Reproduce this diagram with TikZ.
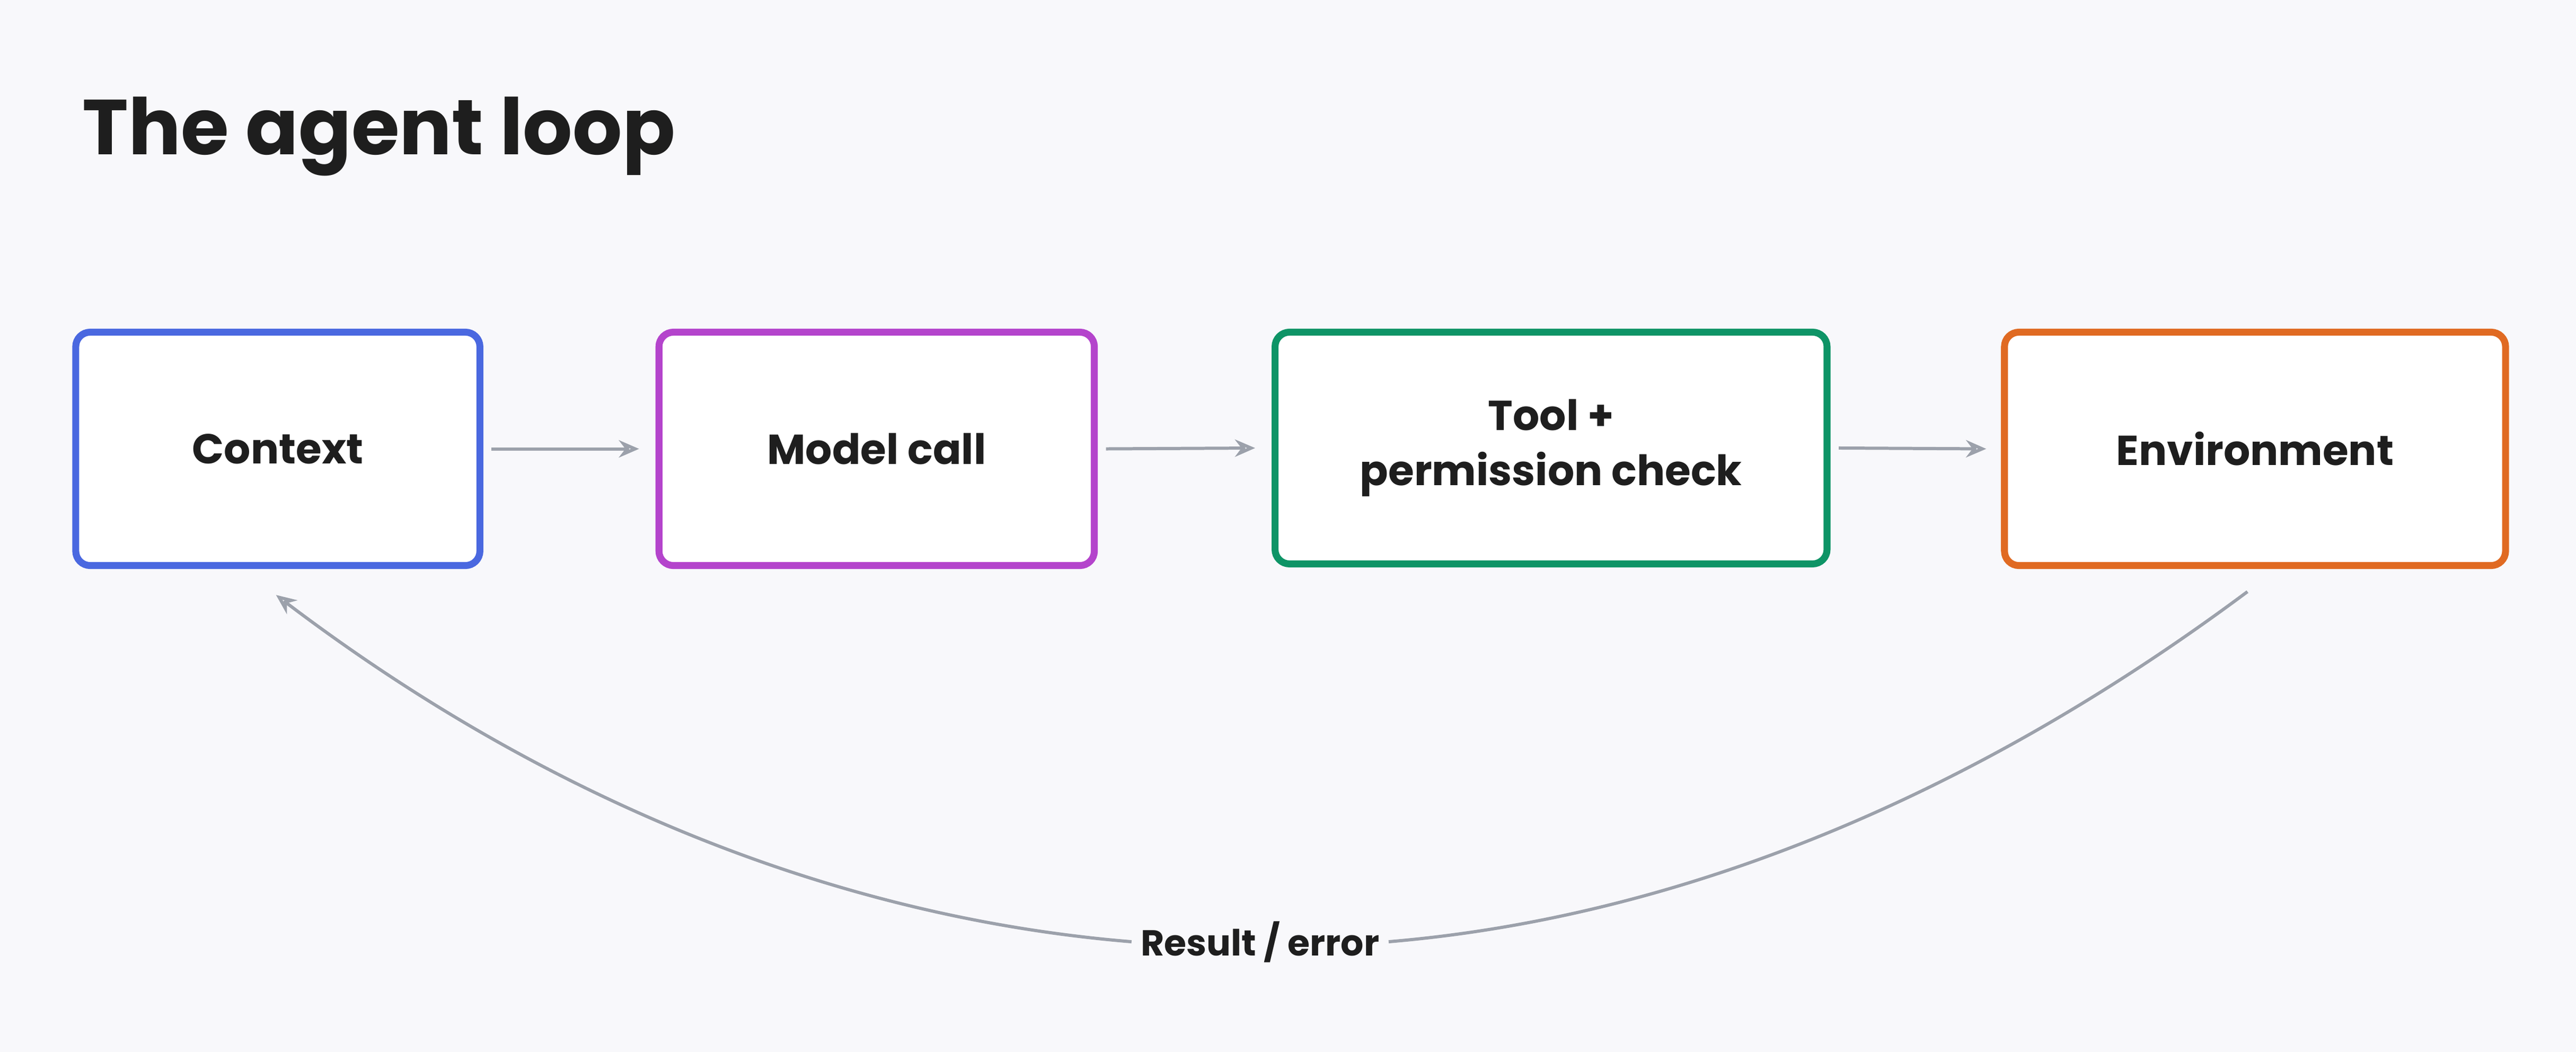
\documentclass[tikz,border=0pt]{standalone}
\usepackage{fontspec}
\setmainfont{Poppins}
\usetikzlibrary{arrows.meta}
\definecolor{bg}{HTML}{F8F8FB}
\definecolor{cblue}{HTML}{4A68E0}
\definecolor{cpurple}{HTML}{B444CC}
\definecolor{cgreen}{HTML}{0E9466}
\definecolor{corange}{HTML}{E06A22}
\definecolor{cgray}{HTML}{9CA1AB}
\definecolor{ctext}{HTML}{1E1E1E}
\tikzset{
 box/.style={draw=#1, line width=2.4pt, fill=white, rounded corners=5pt, anchor=north west, inner sep=0pt, align=center, font=\fontsize{14.5}{19}\selectfont\bfseries, text=ctext},
 conn/.style={draw=cgray, line width=1.1pt, -{Stealth[length=7pt,width=6pt,open]}},
}
\begin{document}
\begin{tikzpicture}[x=0.02cm,y=-0.02cm]
\fill[bg] (0,0) rectangle (1568,640);
\useasboundingbox (0,0) rectangle (1568,640);
\node[anchor=base west, font=\fontsize{27}{30}\selectfont\bfseries, text=ctext] (title) at (44,94) {The agent loop};
\node[box=cblue, minimum width=246*0.02cm, minimum height=142*0.02cm] (ctx) at (44,200) {Context};
\node[box=cpurple, minimum width=265*0.02cm, minimum height=142*0.02cm] (model) at (399,200) {Model call};
\node[box=cgreen, minimum width=336*0.02cm, minimum height=141*0.02cm] (tool) at (774,200) {Tool +\\permission check};
\node[box=corange, minimum width=305*0.02cm, minimum height=142*0.02cm] (env) at (1218,200) {Environment};
\draw[conn] ([xshift=5*0.02cm]ctx.east) -- ([xshift=-10*0.02cm]model.west);
\draw[conn] ([xshift=5*0.02cm]model.east) -- ([xshift=-10*0.02cm]tool.west);
\draw[conn] ([xshift=5*0.02cm]tool.east) -- ([xshift=-9*0.02cm]env.west);
\coordinate (s) at (1368,360);
\coordinate (e) at (168,362);
\node[fill=bg, inner sep=3pt, font=\fontsize{12.5}{14}\selectfont\bfseries, text=ctext] (lbl) at (767,573) {Result / error};
\draw[draw=cgray, line width=1.1pt] (s) .. controls (1180,500) and (1000,560) .. (lbl.east);
\draw[conn] (lbl.west) .. controls (530,560) and (350,500) .. (e);
\end{tikzpicture}
\end{document}
